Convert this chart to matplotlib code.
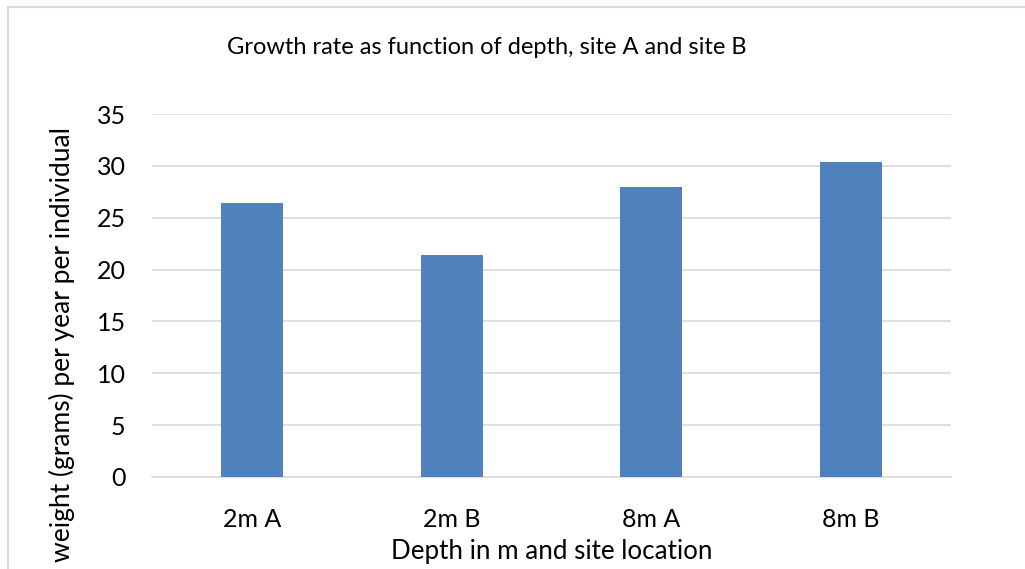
import matplotlib
matplotlib.use("Agg")
import matplotlib.pyplot as plt
from matplotlib.lines import Line2D
import numpy as np


# ── Data ─────────────────────────────────────────────────────────────────────
categories = ["2m A", "2m B", "8m A", "8m B"]
growth     = [26.4, 21.4, 28.0, 30.4]
y_ticks    = [0, 5, 10, 15, 20, 25, 30, 35]

TITLE  = "Growth rate as function of depth, site A and site B"
XLABEL = "Depth in m and site location"
YLABEL = "weight (grams) per year per individual"

BAR_COLOR  = "#4F81BD"
GRID_COLOR = "#D9D9D9"
TEXT_COLOR = "#000000"

plt.rcParams["font.family"] = ["Lato", "DejaVu Sans"]

W, H = 1025, 569
fig = plt.figure(figsize=(W / 100, H / 100), dpi=100)
ax = fig.add_axes([152 / W, 1 - 477 / H, (951 - 152) / W, (477 - 114) / H])

x = np.arange(len(categories))
ax.bar(x, growth, width=0.31, color=BAR_COLOR, zorder=3)

ax.set_xlim(-0.5, len(categories) - 0.5)
ax.set_ylim(0, 35)
ax.set_yticks(y_ticks)
ax.set_xticks(x)
ax.set_xticklabels(categories)
ax.yaxis.grid(True, color=GRID_COLOR, linewidth=1.2, zorder=0)
ax.tick_params(axis="both", length=0, labelsize=18, colors=TEXT_COLOR)
ax.tick_params(axis="y", pad=19)
ax.tick_params(axis="x", pad=22)
for side in ("left", "right", "top"):
    ax.spines[side].set_visible(False)
ax.spines["bottom"].set_color(GRID_COLOR)
ax.spines["bottom"].set_linewidth(1.2)

# titles placed in figure pixels to follow the reference layout
fig.text(487 / W, 1 - 47 / H, TITLE, ha="center", va="center", fontsize=17)
fig.text(552 / W, 1 - 551 / H, XLABEL, ha="center", va="center", fontsize=18.7)
fig.text(62 / W, 1 - 345 / H, YLABEL, ha="center", va="center",
         rotation=90, fontsize=19)

# light chart-area border (left and top edges visible in the crop)
fig.add_artist(Line2D([8 / W, 8 / W], [0, 1 - 7 / H], color=GRID_COLOR,
                      linewidth=1.5, transform=fig.transFigure))
fig.add_artist(Line2D([8 / W, 1], [1 - 7 / H, 1 - 7 / H], color=GRID_COLOR,
                      linewidth=1.5, transform=fig.transFigure))

fig.savefig("out.png", dpi=100)
